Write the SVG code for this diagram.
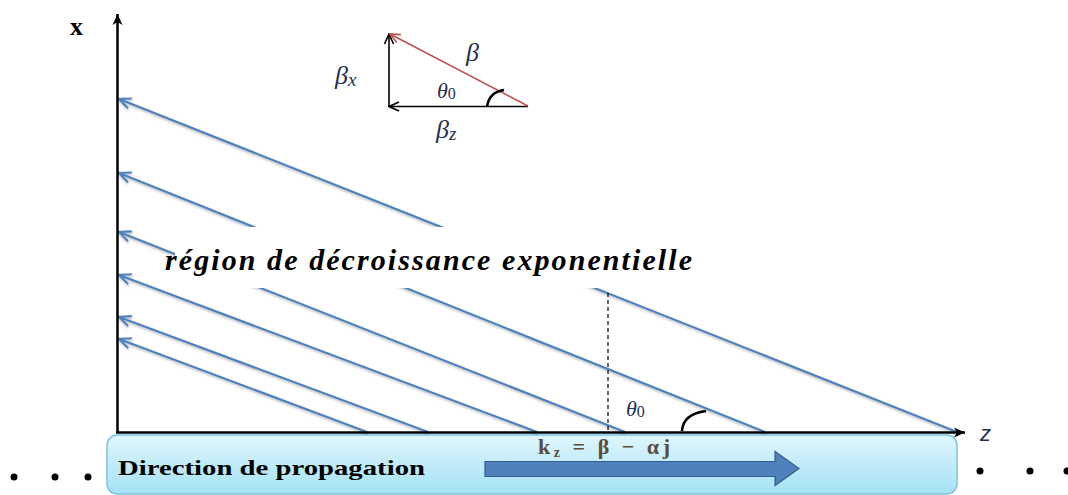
<svg xmlns="http://www.w3.org/2000/svg" width="1068" height="495" viewBox="0 0 1068 495">
  <style>
    .wave { stroke: #4f81bd; stroke-width: 2.2; fill: none; marker-start: url(#openBlue); filter: url(#sh); }
    .axis { stroke: #000; stroke-width: 2.5; fill: none; }
    .math { font-family: "Liberation Serif", "DejaVu Serif", serif; font-style: italic; fill: #26304f; }
    .dot { fill: #000; }
  </style>
  <defs>
    <marker id="openBlue" viewBox="0 0 12 12" refX="11" refY="6" markerWidth="14" markerHeight="14" markerUnits="userSpaceOnUse" orient="auto-start-reverse">
      <path d="M1,1.5 L11,6 L1,10.5" fill="none" stroke="#4f81bd" stroke-width="1.8"/>
    </marker>
    <marker id="openBlack" viewBox="0 0 12 12" refX="11" refY="6" markerWidth="12" markerHeight="12" markerUnits="userSpaceOnUse" orient="auto">
      <path d="M1,1.5 L11,6 L1,10.5" fill="none" stroke="#000" stroke-width="1.6"/>
    </marker>
    <marker id="openRed" viewBox="0 0 12 12" refX="11" refY="6" markerWidth="12" markerHeight="12" markerUnits="userSpaceOnUse" orient="auto">
      <path d="M1,1.5 L11,6 L1,10.5" fill="none" stroke="#c0504d" stroke-width="1.6"/>
    </marker>
    <marker id="axisHead" viewBox="0 0 12 12" refX="11" refY="6" markerWidth="12" markerHeight="12" markerUnits="userSpaceOnUse" orient="auto">
      <path d="M0,1 L11,6 L0,11 L3,6 Z" fill="#000"/>
    </marker>
    <linearGradient id="boxGrad" x1="0" y1="0" x2="0" y2="1">
      <stop offset="0" stop-color="#e0f6fc"/>
      <stop offset="1" stop-color="#a3e2f5"/>
    </linearGradient>
    <filter id="sh" x="-5%" y="-20%" width="110%" height="140%">
      <feDropShadow dx="0.5" dy="1.5" stdDeviation="1" flood-color="#000" flood-opacity="0.3"/>
    </filter>
  </defs>

  <!-- bottom medium box -->
  <g id="medium">
    <rect x="107" y="435" width="850" height="59" rx="10" fill="url(#boxGrad)" stroke="#7cc5dc" stroke-width="1.5"/>
    <text x="118" y="475" font-family="Liberation Serif, serif" font-weight="bold" font-size="22" fill="#000" textLength="307" lengthAdjust="spacingAndGlyphs">Direction de propagation</text>
    <path d="M485,461.5 H775 V451.5 L799,468.5 L775,485.5 V476.5 H485 Z" fill="#4f81bd" stroke="#385d8a" stroke-width="1.2"/>
    <text x="538" y="454" font-family="Liberation Serif, serif" font-weight="bold" font-size="22" fill="#5a4d3e" textLength="132">k<tspan font-size="14" dy="3">z</tspan><tspan dy="-3"> = β − αj</tspan></text>
  </g>

  <!-- dots -->
  <g id="dots">
    <circle class="dot" cx="14" cy="477" r="3.5"/>
    <circle class="dot" cx="55" cy="477" r="3.5"/>
    <circle class="dot" cx="88" cy="477" r="3.5"/>
    <circle class="dot" cx="980" cy="471" r="3.5"/>
    <circle class="dot" cx="1030" cy="471" r="3.5"/>
    <circle class="dot" cx="1067" cy="471" r="3.5"/>
  </g>

  <!-- connectors: wave lines -->
  <g id="connectors">
    <line class="wave" x1="119" y1="99" x2="957" y2="432"/>
    <line class="wave" x1="119" y1="173" x2="765" y2="432"/>
    <line class="wave" x1="119" y1="232" x2="625" y2="432"/>
    <line class="wave" x1="119" y1="275" x2="537" y2="432"/>
    <line class="wave" x1="119" y1="317" x2="428" y2="432"/>
    <line class="wave" x1="119" y1="339" x2="367" y2="432"/>
  </g>

  <!-- region label -->
  <g id="region">
    <rect x="175" y="227" width="535" height="61" fill="#fff"/>
    <text x="165" y="270" font-family="Liberation Serif, serif" font-weight="bold" font-style="italic" font-size="30" fill="#000" textLength="527">région de décroissance exponentielle</text>
  </g>

  <!-- axes -->
  <g id="axes">
    <line class="axis" x1="117.5" y1="433" x2="117.5" y2="14" marker-end="url(#axisHead)"/>
    <line class="axis" x1="116" y1="432.5" x2="965" y2="432.5" marker-end="url(#axisHead)"/>
    <text x="70" y="35" font-family="Liberation Serif, serif" font-weight="bold" font-size="26" fill="#000">x</text>
    <text x="980" y="441" font-family="Liberation Sans, sans-serif" font-style="italic" font-size="22" fill="#1f2d50">z</text>
  </g>

  <!-- angle at bottom -->
  <g id="angle">
    <line x1="608" y1="293" x2="608" y2="432" stroke="#000" stroke-width="1.2" stroke-dasharray="4,3"/>
    <path d="M682,431 Q683,414 706,411" fill="none" stroke="#000" stroke-width="2.5"/>
    <text class="math" x="626" y="416" font-size="22">θ<tspan font-style="normal" font-size="16" dy="1">0</tspan></text>
  </g>

  <!-- inset triangle -->
  <g id="inset">
    <line x1="389" y1="107" x2="389" y2="34" stroke="#000" stroke-width="1.6" marker-end="url(#openBlack)"/>
    <line x1="528" y1="106.5" x2="389" y2="106.5" stroke="#000" stroke-width="1.6" marker-end="url(#openBlack)"/>
    <line x1="528" y1="106" x2="390" y2="34" stroke="#c0504d" stroke-width="1.5" marker-end="url(#openRed)"/>
    <path d="M487,107 Q489,92 504,90" fill="none" stroke="#000" stroke-width="2.5"/>
    <text class="math" x="466" y="61" font-size="26">β</text>
    <text class="math" x="335" y="84" font-size="26">β<tspan font-size="19" dy="2">x</tspan></text>
    <text class="math" x="437" y="98" font-size="22">θ<tspan font-style="normal" font-size="16" dy="1">0</tspan></text>
    <text class="math" x="436" y="138" font-size="26">β<tspan font-size="19" dy="2">z</tspan></text>
  </g>
</svg>
